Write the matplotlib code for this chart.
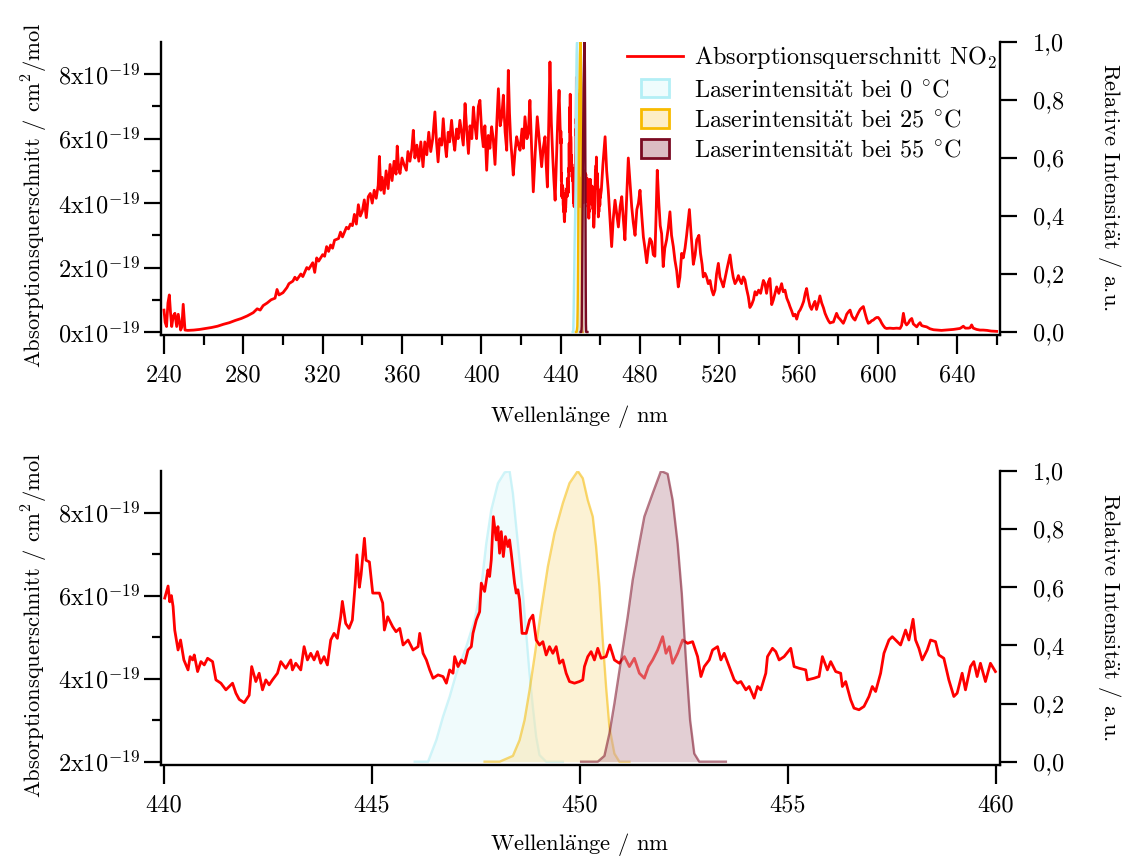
import numpy as np
import matplotlib
matplotlib.use('Agg')
import matplotlib.pyplot as plt
from matplotlib.lines import Line2D
from matplotlib.patches import Patch, Rectangle
from matplotlib.legend_handler import HandlerPatch
from matplotlib.ticker import FixedLocator, FuncFormatter
from matplotlib.transforms import blended_transform_factory

plt.rcParams['font.family'] = ['cmr10', 'DejaVu Serif']
plt.rcParams['mathtext.fontset'] = 'cm'
plt.rcParams['axes.unicode_minus'] = False

# ---------------- data (cross section in units of 1e-19 cm^2/mol) ----------------
wl_broad_a = [240.0, 240.6, 241.3, 242.0, 242.7, 243.3, 243.9, 244.7, 245.5, 246.4, 247.2, 248.0, 248.4, 249.0,
              249.7, 250.6, 252, 255, 258, 261, 264, 267, 270, 273, 276, 279, 282, 285, 287, 288.5, 290, 292,
              294, 296, 297, 298, 300, 302, 303, 305, 306, 307, 309, 310, 312, 313, 315, 316, 317, 318, 320,
              321, 322, 323, 324, 325, 326, 328, 329, 330, 332, 333, 334, 335, 336, 337, 338, 339, 340, 341,
              342, 343, 344, 345, 346, 347, 348, 348.6, 349.3, 350, 351, 352, 353, 354, 355, 356, 357, 357.6,
              358.3, 359, 360, 361, 362.2, 363, 364, 365, 365.7, 366.5, 367.5, 368.5, 369.5, 370.6, 371.5,
              372.5, 373.5, 374.5, 375.5, 376.6, 377.4, 378.2, 379, 380, 380.8, 381.6, 382.4, 383.3, 384, 385,
              385.8, 386.6, 387.5, 388.3, 389.2, 390, 390.9, 391.8, 392.6, 393.5, 394.3, 395.2, 396, 396.8,
              397.6, 398.5, 399.3, 400.2, 401, 401.8, 402.7, 403.5, 404.3, 405.2, 406, 406.9, 407.8, 408.6,
              409.5, 410.3, 411.1, 412, 412.8, 413.6, 414.2, 414.8, 415.5, 416.1, 417, 417.8, 418.7, 419.5,
              420.5, 421.2, 422, 423, 423.7, 424.5, 425.3, 426.2, 427.2, 428.2, 429.3, 430.4, 431.2, 432.1,
              432.7, 433.3, 434, 434.6, 435.3, 436, 436.6, 437.2, 438, 438.6, 439.2, 439.7]
xs_broad_a = [0.68, 0.30, 0.17, 0.90, 1.15, 0.60, 0.17, 0.50, 0.58, 0.17, 0.55, 0.25, 0.06, 0.15,
              0.86, 0.06, 0.05, 0.06, 0.08, 0.11, 0.14, 0.18, 0.24, 0.29, 0.36, 0.42, 0.50, 0.60, 0.72, 0.68, 0.82, 0.90,
              1.00, 1.05, 1.32, 1.15, 1.22, 1.38, 1.50, 1.58, 1.70, 1.62, 1.80, 1.72, 2.00, 1.95, 2.15, 1.85, 2.30, 2.20, 2.40,
              2.35, 2.65, 2.50, 2.70, 2.60, 2.85, 2.90, 3.10, 2.95, 3.25, 3.20, 3.35, 3.30, 3.65, 3.35, 3.95, 3.60, 3.75, 4.10,
              3.55, 4.20, 4.30, 4.00, 4.40, 4.15, 4.55, 5.45, 4.40, 4.80, 4.30, 5.00, 4.45, 5.20, 4.70, 5.30, 4.90, 5.77,
              5.10, 4.92, 5.40, 5.20, 5.02, 5.60, 5.30, 5.70, 6.26, 5.40, 5.80, 5.30, 5.90, 5.13, 5.90,
              5.50, 6.20, 5.60, 6.00, 6.83, 5.90, 5.28, 6.00, 5.80, 6.62, 5.90, 5.44, 6.20, 5.90, 6.57,
              6.00, 5.64, 6.30, 6.00, 6.57, 6.20, 5.80, 7.09, 6.30, 5.54, 6.40, 6.00, 6.98, 6.40,
              6.00, 7.00, 7.19, 6.20, 5.75, 6.40, 5.02, 6.10, 5.70, 6.37, 6.00, 5.20, 6.50, 7.55,
              6.40, 6.68, 7.35, 6.20, 5.64, 8.12, 6.80, 5.95, 5.40, 4.87, 5.60, 6.06, 5.80, 5.64,
              6.30, 5.70, 6.68, 6.00, 6.16, 7.19, 5.80, 4.35, 5.60, 6.68, 5.90, 5.13, 5.70, 6.06,
              5.20, 4.50, 6.50, 8.38, 6.50, 5.44, 4.70, 4.09, 5.60, 6.70, 7.50, 6.40]

wl_fine = [440.02, 440.10, 440.14, 440.18, 440.22, 440.26, 440.34, 440.40, 440.48, 440.58, 440.63, 440.69, 440.73,
           440.81, 440.89, 440.97, 441.05, 441.17, 441.25, 441.37, 441.49, 441.65, 441.73, 441.81, 441.93, 442.05,
           442.11, 442.21, 442.29, 442.37, 442.45, 442.53, 442.61, 442.73, 442.81, 442.93, 443.05, 443.09, 443.17,
           443.29, 443.37, 443.45, 443.53, 443.61, 443.69, 443.77, 443.85, 443.93, 444.01, 444.09, 444.17, 444.25,
           444.29, 444.37, 444.45, 444.53, 444.60, 444.64, 444.70, 444.74, 444.82, 444.86, 444.94, 445.02, 445.18,
           445.26, 445.30, 445.38, 445.50, 445.58, 445.67, 445.75, 445.87, 445.99, 446.11, 446.15, 446.23, 446.31,
           446.39, 446.47, 446.59, 446.71, 446.79, 446.87, 446.95, 446.99, 447.07, 447.15, 447.23, 447.31, 447.39,
           447.43, 447.51, 447.59, 447.63, 447.71, 447.79, 447.83, 447.87, 447.92, 447.99, 448.03, 448.07, 448.11,
           448.16, 448.21, 448.27, 448.31, 448.35, 448.43, 448.47, 448.51, 448.55, 448.61, 448.71, 448.79, 448.87,
           448.95, 449.03, 449.11, 449.19, 449.27, 449.35, 449.43, 449.51, 449.59, 449.67, 449.75, 449.87, 449.99,
           450.07, 450.11, 450.19, 450.27, 450.35, 450.43, 450.51, 450.63, 450.72, 450.83, 450.95, 451.07, 451.19,
           451.31, 451.43, 451.55, 451.65, 451.75, 451.87, 451.99, 452.07, 452.15, 452.23, 452.35, 452.47, 452.59,
           452.71, 452.83, 452.91, 452.99, 453.11, 453.19, 453.31, 453.39, 453.47, 453.59, 453.71, 453.79, 453.87,
           453.99, 454.07, 454.19, 454.27, 454.35, 454.47, 454.51, 454.63, 454.71, 454.79, 454.91, 455.07, 455.15,
           455.27, 455.43, 455.47, 455.63, 455.75, 455.83, 455.95, 456.03, 456.15, 456.27, 456.31, 456.39, 456.51,
           456.59, 456.71, 456.83, 456.95, 457.03, 457.11, 457.23, 457.31, 457.43, 457.51, 457.63, 457.71, 457.83,
           457.91, 458.01, 458.07, 458.15, 458.23, 458.35, 458.43, 458.55, 458.63, 458.75, 458.87, 458.99, 459.07,
           459.19, 459.27, 459.39, 459.47, 459.55, 459.63, 459.75, 459.87, 459.99]
xs_fine = [5.94, 6.23, 5.85, 6.00, 5.74, 5.17, 4.69, 4.93, 4.45, 4.21, 4.53, 4.45, 4.57,
           4.17, 4.41, 4.33, 4.49, 4.41, 3.97, 3.89, 3.73, 3.89, 3.65, 3.50, 3.42, 3.60,
           4.29, 3.93, 4.13, 3.73, 3.97, 3.85, 3.97, 4.13, 4.41, 4.25, 4.45, 4.21, 4.37,
           4.21, 4.77, 4.45, 4.61, 4.45, 4.65, 4.37, 4.53, 4.33, 4.93, 5.09, 4.97, 5.49,
           5.86, 5.33, 5.21, 5.41, 6.30, 6.98, 6.20, 6.50, 7.38, 6.85, 6.81, 6.06, 6.06,
           5.82, 5.17, 5.49, 5.25, 5.13, 5.21, 4.81, 4.93, 4.69, 4.77, 5.09, 4.61, 4.45,
           4.21, 4.01, 4.09, 4.05, 3.89, 4.21, 4.13, 4.53, 4.29, 4.45, 4.37, 4.69, 4.77,
           5.09, 5.41, 5.61, 6.30, 6.10, 6.62, 6.46, 6.86, 7.90, 7.34, 7.66, 7.02, 7.54,
           6.94, 7.42, 7.18, 7.34, 7.02, 6.30, 6.06, 6.14, 5.90, 5.09, 5.09, 5.41, 5.53,
           4.93, 4.81, 4.89, 4.57, 4.77, 4.61, 4.77, 4.37, 4.45, 4.13, 3.93, 3.89, 3.93,
           3.97, 4.29, 4.53, 4.65, 4.45, 4.73, 4.49, 4.53, 4.81, 4.45, 4.37, 4.53, 4.29,
           4.49, 4.13, 4.01, 4.29, 4.45, 4.69, 5.01, 4.61, 4.77, 4.37, 4.61, 4.93, 4.85,
           4.89, 4.53, 4.05, 4.29, 4.45, 4.69, 4.77, 4.45, 4.61, 4.29, 3.97, 3.89, 3.93,
           3.73, 3.81, 3.53, 3.81, 3.73, 4.13, 4.53, 4.73, 4.65, 4.45, 4.53, 4.73, 4.29,
           4.25, 4.21, 3.97, 4.01, 4.05, 4.53, 4.21, 4.41, 4.17, 4.13, 3.81, 3.93, 3.49,
           3.29, 3.25, 3.33, 3.57, 3.81, 3.69, 4.13, 4.61, 4.93, 5.01, 4.89, 4.81, 5.17,
           4.93, 5.43, 4.93, 4.73, 4.45, 4.69, 4.93, 4.89, 4.57, 4.49, 3.97, 3.57, 3.65,
           4.13, 3.73, 4.29, 4.41, 4.05, 4.37, 3.93, 4.37, 4.17]

wl_broad_b = [460.5, 461.3, 462.4, 463.2, 464.0, 464.8, 465.7, 466.5, 467.4, 468.2, 469.1, 470, 470.8, 471.6, 472.4,
              473.3, 474.1, 475, 475.8, 476.6, 477.5, 478.4, 479.2, 480, 480.9, 481.7, 482.5, 483.4, 484.2, 485,
              485.9, 486.7, 487.5, 488.1, 488.7, 489.5, 490.2, 490.9, 491.7, 492.5, 493.4, 494.2, 495.1, 495.9,
              496.8, 497.6, 498.5, 499.3, 500.1, 501, 501.8, 502.7, 503.5, 504.2, 504.9, 505.8, 506.9, 507.8,
              508.6, 509.7, 510.5, 511.3, 511.9, 512.8, 513.6, 514.4, 515.3, 516.2, 517, 517.8, 518.6, 519.5,
              520.3, 521.2, 522, 523, 524, 525.4, 526.2, 527, 527.9, 528.8, 529.6, 530.4, 531.2, 532.1, 532.9,
              533.7, 534.6, 535.4, 536.3, 537.2, 538, 538.8, 539.8, 540.8, 542.2, 543, 543.8, 544.7, 545.5,
              546.4, 547.2, 548.1, 548.9, 550, 551.4, 552.2, 553.1, 554, 555, 555.6, 556.5, 557.3, 558.2, 559,
              560, 560.7, 561.6, 562.5, 563.3, 564, 564.8, 565.7, 566.5, 567.4, 568.2, 569, 569.9, 570.7, 571.6,
              572.5, 573.3, 574.2, 575, 575.8, 576.7, 577.5, 578.3, 579.1, 580, 580.8, 581.7, 582.5, 583.4,
              584.2, 585, 585.9, 586.8, 587.6, 588.4, 589.3, 590.1, 591, 591.8, 592.6, 593.4, 594.3, 595.1, 596,
              596.8, 597.6, 598.5, 599.3, 600.1, 601, 601.8, 602.6, 603.5, 604.3, 606, 607.7, 609.4, 611.1,
              611.9, 612.8, 613.6, 614.4, 615.3, 616.1, 617, 617.8, 618.7, 619.5, 620.4, 621.2, 622, 623, 624.5,
              626.2, 628, 630, 632, 634, 636, 638, 640, 641.3, 642.1, 643, 644, 645.5, 646.4, 647.2, 648, 649.7,
              651.4, 653, 655, 657, 659.8]
xs_broad_b = [4.40, 5.20, 6.06, 5.00, 4.40, 3.60, 2.65, 3.50, 4.09, 3.70, 3.26, 3.90, 4.20, 3.50, 2.86,
              4.20, 5.40, 4.60, 3.90, 3.40, 3.00, 3.80, 4.00, 4.40, 3.60, 2.95, 2.60, 2.15, 2.60, 2.90,
              2.80, 2.40, 2.35, 3.60, 5.02, 4.00, 3.30, 3.05, 2.03, 2.60, 2.86, 3.20, 3.73, 3.00,
              2.65, 2.23, 1.90, 1.40, 1.70, 2.44, 2.30, 2.60, 3.00, 3.40, 3.80, 3.00, 2.10, 2.40,
              2.86, 3.00, 2.44, 2.10, 1.71, 1.82, 1.70, 1.50, 1.60, 1.30, 1.15, 1.30, 1.80, 2.13,
              1.70, 1.55, 1.40, 1.70, 2.00, 2.39, 2.00, 1.70, 1.50, 1.60, 1.75, 1.60, 1.50, 1.71, 1.62,
              1.35, 1.10, 0.76, 0.85, 1.00, 1.25, 1.15, 1.30, 1.20, 1.60, 1.50, 1.20, 1.55, 1.66,
              0.85, 0.99, 1.20, 1.40, 1.20, 1.50, 1.25, 1.30, 1.05, 0.90, 0.79, 0.65, 0.50, 0.55, 0.40,
              0.62, 0.68, 0.80, 0.95, 1.20, 1.35, 1.05, 0.80, 0.70, 0.85, 0.95, 0.70, 0.90, 1.12, 0.90,
              0.75, 0.58, 0.45, 0.35, 0.28, 0.30, 0.31, 0.45, 0.58, 0.45, 0.40, 0.33, 0.27, 0.40,
              0.55, 0.62, 0.68, 0.50, 0.42, 0.37, 0.50, 0.60, 0.70, 0.75, 0.79, 0.60, 0.40, 0.27, 0.30,
              0.35, 0.37, 0.42, 0.45, 0.45, 0.38, 0.28, 0.20, 0.13, 0.11, 0.12, 0.11, 0.12, 0.11,
              0.20, 0.58, 0.30, 0.22, 0.28, 0.37, 0.42, 0.25, 0.20, 0.16, 0.24, 0.29, 0.20, 0.18, 0.16,
              0.10, 0.07, 0.06, 0.05, 0.06, 0.07, 0.08, 0.10, 0.11, 0.14, 0.18, 0.12, 0.12, 0.13, 0.22, 0.12, 0.08,
              0.06, 0.06, 0.05, 0.03, 0.02]

# laser emission profiles (relative intensity)
wl_laser_0 = [446.03, 446.35, 446.55, 446.71, 446.87, 447.03, 447.27, 447.47, 447.63, 447.75, 447.87, 448.03,
              448.19, 448.31, 448.39, 448.47, 448.55, 448.63, 448.71, 448.79, 448.87, 448.95, 449.03, 449.19, 449.59]
int_laser_0 = [0.0, 0.0, 0.075, 0.155, 0.224, 0.304, 0.396, 0.488, 0.602, 0.751, 0.866, 0.958,
               0.995, 1.0, 0.923, 0.808, 0.694, 0.579, 0.442, 0.304, 0.189, 0.086, 0.023, 0.0, 0.0]
wl_laser_25 = [447.71, 448.07, 448.39, 448.55, 448.67, 448.79, 448.91, 449.07, 449.23, 449.39, 449.59, 449.75,
               449.95, 450.07, 450.19, 450.31, 450.39, 450.47, 450.55, 450.63, 450.71, 450.83, 450.95, 451.19]
int_laser_25 = [0.0, 0.0, 0.02, 0.074, 0.143, 0.246, 0.361, 0.522, 0.671, 0.786, 0.889, 0.958,
                1.0, 0.975, 0.900, 0.843, 0.740, 0.602, 0.419, 0.258, 0.120, 0.028, 0.0, 0.0]
wl_laser_55 = [450.03, 450.43, 450.59, 450.71, 450.83, 450.99, 451.15, 451.27, 451.43, 451.55, 451.75, 451.95,
               452.11, 452.23, 452.35, 452.45, 452.55, 452.65, 452.75, 452.87, 453.51]
int_laser_55 = [0.0, 0.0, 0.02, 0.097, 0.2, 0.35, 0.499, 0.625, 0.751, 0.843, 0.923, 1.0,
                0.99, 0.900, 0.751, 0.579, 0.350, 0.143, 0.028, 0.0, 0.0]

labels = ['Absorptionsquerschnitt NO$_2$',
          r'Laserintensit$\ddot{\mathrm{a}}$t bei 0 $^{\circ}$C',
          r'Laserintensit$\ddot{\mathrm{a}}$t bei 25 $^{\circ}$C',
          r'Laserintensit$\ddot{\mathrm{a}}$t bei 55 $^{\circ}$C']

laser_edge = ['#a9ecf4', '#f6b900', '#7a0a22']
laser_face = ['#e2f8fb', '#fbe6ab', '#c8a0aa']
legend_face = ['#effcfd', '#fdeec6', '#dbbcc3']
legend_edge = ['#b3eff6', '#f8bb00', '#7a0a22']

# ---------------- figure ----------------
W, H = 1133, 860
fig = plt.figure(figsize=(W / 100, H / 100), dpi=100)

def fx(px):
    return px / W

def fy(py):
    return 1 - py / H

L, R = 161, 1000
ax1 = fig.add_axes([fx(L), fy(335), fx(R - L), (335 - 42) / H])
ax2 = fig.add_axes([fx(L), fy(765), fx(R - L), (765 - 471) / H])

wl_top = np.array(wl_broad_a + wl_fine + wl_broad_b)
xs_top = np.array(xs_broad_a + xs_fine + xs_broad_b) * 1e-19

lasers = [(wl_laser_0, int_laser_0), (wl_laser_25, int_laser_25), (wl_laser_55, int_laser_55)]

left_fmt = FuncFormatter(lambda v, p: '%dx10$^{-19}$' % int(round(v / 1e-19)))
right_fmt = FuncFormatter(lambda v, p: ('%.1f' % v).replace('.', ','))

FS = 17.5
FSL = 16.3
LW = 2.0

def style(ax, axr, xlim, ylim, ylim_r, xmaj, xmin, ymaj, ymin):
    ax.set_xlim(*xlim)
    ax.set_ylim(*ylim)
    axr.set_ylim(*ylim_r)
    for s in ['top', 'right']:
        ax.spines[s].set_visible(False)
    for s in ['top', 'left', 'bottom']:
        axr.spines[s].set_visible(False)
    for sp in [ax.spines['left'], ax.spines['bottom'], axr.spines['right']]:
        sp.set_linewidth(1.7)
    ax.xaxis.set_major_locator(FixedLocator(xmaj))
    if xmin is not None:
        ax.xaxis.set_minor_locator(FixedLocator(xmin))
    ax.yaxis.set_major_locator(FixedLocator(ymaj))
    ax.yaxis.set_minor_locator(FixedLocator(ymin))
    ax.yaxis.set_major_formatter(left_fmt)
    axr.yaxis.set_major_locator(FixedLocator([0, 0.2, 0.4, 0.6, 0.8, 1.0]))
    axr.yaxis.set_major_formatter(right_fmt)
    ax.tick_params(axis='x', which='major', direction='out', length=13.5, width=1.6, labelsize=FS, pad=8)
    ax.tick_params(axis='x', which='minor', direction='out', length=7.5, width=1.6)
    ax.tick_params(axis='y', which='major', direction='out', length=12, width=1.6, labelsize=FS, pad=3)
    ax.tick_params(axis='y', which='minor', direction='out', length=6.5, width=1.6)
    axr.tick_params(axis='y', which='major', direction='out', length=12, width=1.6, labelsize=FS, pad=12)
    axr.yaxis.set_minor_locator(FixedLocator([]))

# ---- top panel ----
ax1r = ax1.twinx()
style(ax1, ax1r, (238.5, 661.5), (-0.093e-19, 9e-19), (-0.0103, 1.0),
      list(range(240, 641, 40)), list(range(260, 661, 40)),
      [0, 2e-19, 4e-19, 6e-19, 8e-19], [1e-19, 3e-19, 5e-19, 7e-19])
ax1.plot(wl_top, xs_top, color='#ff0000', lw=LW, zorder=3)
tr1 = blended_transform_factory(ax1.transData, ax1r.transData)
for (wl, it), ec, fc in zip(lasers, laser_edge, laser_face):
    ax1.fill_between(wl, 0, it, color=fc, alpha=0.55, lw=0, transform=tr1, zorder=4)
    ax1.plot(wl, it, color=ec, lw=1.7, transform=tr1, zorder=4)

def rect_func(legend, orig_handle, xdescent, ydescent, width, height, fontsize):
    w = width * 0.5
    h = height * 1.1
    return Rectangle((-xdescent + (width - w) / 2, -ydescent + (height - h) / 2), w, h)

handles = [Line2D([], [], color='#ff0000', lw=LW)]
for ec, fc in zip(legend_edge, legend_face):
    handles.append(Patch(facecolor=fc, edgecolor=ec, lw=2.0))
hm = {h: HandlerPatch(patch_func=rect_func) for h in handles[1:]}
ax1r.legend(handles, labels, loc='upper right', bbox_to_anchor=(1.0, 1.0), frameon=False,
            fontsize=FS, handlelength=2.3, handletextpad=0.45, labelspacing=0.33,
            borderaxespad=0, borderpad=0.1, handler_map=hm)

# ---- bottom panel ----
ax2r = ax2.twinx()
style(ax2, ax2r, (439.93, 460.1), (1.92e-19, 9e-19), (-0.0114, 1.0),
      [440, 445, 450, 455, 460], None,
      [2e-19, 4e-19, 6e-19, 8e-19], [3e-19, 5e-19, 7e-19])
wl_f = np.array(wl_fine)
xs_f = np.array(xs_fine) * 1e-19
ax2.plot(wl_f, xs_f, color='#ff0000', lw=LW, zorder=3)
tr2 = blended_transform_factory(ax2.transData, ax2r.transData)
for k, ((wl, it), ec, fc) in enumerate(zip(lasers, laser_edge, laser_face)):
    z = 4 if k == 2 else 2
    ax2.fill_between(wl, 0, it, color=fc, alpha=0.5, lw=0, transform=tr2, zorder=z)
    ax2.plot(wl, it, color=ec, lw=1.7, alpha=0.55, transform=tr2, zorder=z)
ax2.set_xlim(439.93, 460.1)
ax2.set_ylim(1.92e-19, 9e-19)
ax1.set_xlim(238.5, 661.5)
ax1.set_ylim(-0.093e-19, 9e-19)

# ---- axis labels ----
ylab_l = 'Absorptionsquerschnitt / cm$^2$/mol'
ylab_r = r'Relative Intensit$\ddot{\mathrm{a}}$t / a.u.'
xlab = r'Wellenl$\ddot{\mathrm{a}}$nge / nm'
for yc, xly in [(195, 417), (625, 845)]:
    fig.text(fx(35), fy(yc), ylab_l, rotation=90, ha='center', va='center', fontsize=FSL)
    fig.text(fx(1110), fy(yc - 8), ylab_r, rotation=270, ha='center', va='center', fontsize=FSL)
    fig.text(fx(580), fy(xly), xlab, ha='center', va='center', fontsize=FSL)

fig.savefig('out.png', dpi=100)
